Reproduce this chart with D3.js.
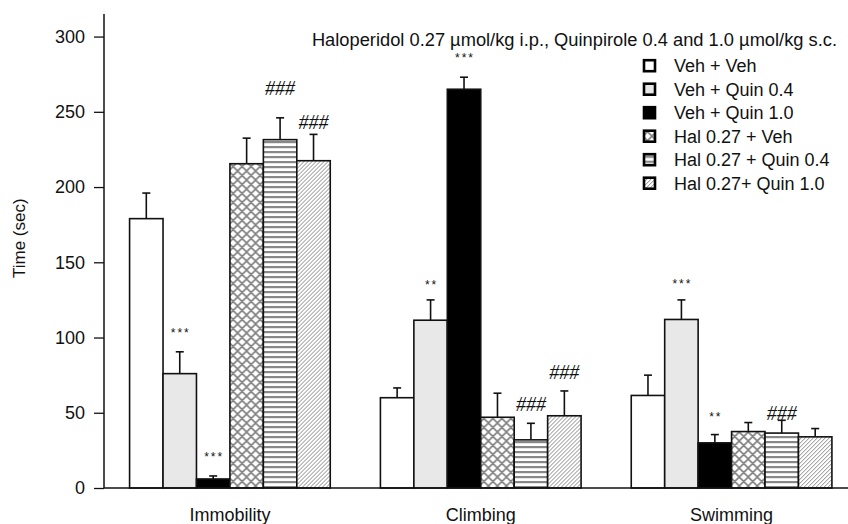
<!DOCTYPE html>
<html lang="en">
<head>
    <meta charset="UTF-8">
    <script src="https://cdn.jsdelivr.net/npm/d3@7"></script>
    <title>Forced swim test</title>
    <style>
        body {
            margin: 0;
            background: white;
        }

        text {
            font-family: 'Liberation Sans', Arial, sans-serif;
            fill: #111;
        }

        .stars {
            font-size: 12px;
            letter-spacing: 2px;
        }

        .hash {
            font-family: 'Liberation Serif', 'Times New Roman', serif;
            font-style: italic;
            font-size: 20px;
        }
    </style>
</head>

<body>
<div class="fig"></div>

<script>
    // Data (means and upward SEM)
    const behaviours = ["Immobility", "Climbing", "Swimming"];
    const groups = ["Veh + Veh", "Veh + Quin 0.4", "Veh + Quin 1.0",
                    "Hal 0.27 + Veh", "Hal 0.27 + Quin 0.4", "Hal 0.27+ Quin 1.0"];

    const means = [
        [179, 76, 6, 215.5, 231.5, 217.5],
        [60, 111.5, 265, 47, 32, 48],
        [61.5, 112, 30, 37.5, 36.5, 34]
    ];
    const sems = [
        [17, 14.5, 2, 17, 14.5, 17.5],
        [6.5, 13.5, 8, 16, 11, 16.5],
        [13.5, 13, 5.5, 6, 8.5, 5.5]
    ];

    // significance marks: behaviour index, group index, text, height (sec)
    const marks = [
        [0, 1, "***", 105], [0, 2, "***", 23], [0, 4, "###", 266], [0, 5, "###", 243],
        [1, 1, "**", 137], [1, 2, "***", 288], [1, 4, "###", 56], [1, 5, "###", 77],
        [2, 1, "***", 138], [2, 2, "**", 49], [2, 4, "###", 50]
    ];

    const yTicks = [0, 50, 100, 150, 200, 250, 300];
    const title = "Haloperidol 0.27 \u00b5mol/kg i.p., Quinpirole 0.4 and 1.0 \u00b5mol/kg s.c.";

    const width = 848, height = 524;
    const fills = ["#ffffff", "#e8e8e8", "#000000", "url(#cross)", "url(#hstripe)", "url(#diag)"];

    const svg = d3.select(".fig").append("svg")
        .attr("width", width)
        .attr("height", height);

    /*----------------- patterns -----------------*/
    const defs = svg.append("defs");

    const cross = defs.append("pattern")
        .attr("id", "cross")
        .attr("patternUnits", "userSpaceOnUse")
        .attr("width", 9).attr("height", 9);
    cross.append("rect").attr("width", 9).attr("height", 9).attr("fill", "white");
    cross.append("path")
        .attr("d", "M0,0 L9,9 M9,0 L0,9 M-1,8 L1,10 M8,-1 L10,1 M-1,1 L1,-1 M8,10 L10,8")
        .attr("stroke", "#808080").attr("stroke-width", 1.6);

    const hs = defs.append("pattern")
        .attr("id", "hstripe")
        .attr("patternUnits", "userSpaceOnUse")
        .attr("width", 6).attr("height", 5);
    hs.append("rect").attr("width", 6).attr("height", 5).attr("fill", "white");
    hs.append("rect").attr("y", 1).attr("width", 6).attr("height", 2.2).attr("fill", "#888");

    const dg = defs.append("pattern")
        .attr("id", "diag")
        .attr("patternUnits", "userSpaceOnUse")
        .attr("width", 4).attr("height", 4);
    dg.append("rect").attr("width", 4).attr("height", 4).attr("fill", "white");
    dg.append("path")
        .attr("d", "M0,4 L4,0 M-1,1 L1,-1 M3,5 L5,3")
        .attr("stroke", "#888").attr("stroke-width", 1);

    /*----------------- scales -----------------*/
    const x0 = d3.scaleBand()
        .domain(behaviours)
        .range([104.5, 857])
        .paddingInner(0.2)
        .paddingOuter(0.1);

    const x1 = d3.scaleBand()
        .domain(d3.range(groups.length))
        .range([0, x0.bandwidth()]);

    const y = d3.scaleLinear()
        .domain([0, 315])
        .range([488, 14]);

    /*----------------- axes -----------------*/
    const yAxis = svg.append("g")
        .attr("transform", "translate(104,0)")
        .call(d3.axisLeft(y).tickValues(yTicks).tickSize(10).tickPadding(9));
    yAxis.select(".domain").remove();
    yAxis.selectAll(".tick line").attr("stroke", "#111").attr("stroke-width", 1.3);
    yAxis.selectAll(".tick text").style("font-size", "18px").attr("fill", "#111");

    svg.append("line")
        .attr("x1", 104).attr("x2", 104)
        .attr("y1", y(315)).attr("y2", y(0))
        .attr("stroke", "#111").attr("stroke-width", 1.5);

    svg.append("text")
        .attr("transform", "translate(25," + (y(166)) + ") rotate(-90)")
        .attr("text-anchor", "middle")
        .style("font-size", "17px")
        .text("Time (sec)");

    svg.selectAll(".xlab")
        .data(behaviours)
        .enter()
        .append("text")
        .attr("class", "xlab")
        .attr("x", d => x0(d) + x0.bandwidth() / 2)
        .attr("y", 521)
        .attr("text-anchor", "middle")
        .style("font-size", "18px")
        .text(d => d);

    /*----------------- bars -----------------*/
    const barG = svg.selectAll(".grp")
        .data(behaviours)
        .enter()
        .append("g")
        .attr("class", "grp")
        .attr("transform", d => "translate(" + x0(d) + ",0)");

    barG.each(function (b, bi) {
        const g = d3.select(this);
        const rows = means[bi].map((m, gi) => ({ gi, m, s: sems[bi][gi] }));

        // error bars first, so the bar outline sits on top
        rows.forEach(r => {
            const cx = x1(r.gi) + x1.bandwidth() / 2;
            g.append("line")
                .attr("x1", cx).attr("x2", cx)
                .attr("y1", y(r.m)).attr("y2", y(r.m + r.s))
                .attr("stroke", "#111").attr("stroke-width", 1.6);
            g.append("line")
                .attr("x1", cx - 4).attr("x2", cx + 4)
                .attr("y1", y(r.m + r.s)).attr("y2", y(r.m + r.s))
                .attr("stroke", "#111").attr("stroke-width", 1.6);
        });

        g.selectAll("rect")
            .data(rows)
            .enter()
            .append("rect")
            .attr("x", d => x1(d.gi))
            .attr("y", d => y(d.m))
            .attr("width", x1.bandwidth())
            .attr("height", d => y(0) - y(d.m))
            .attr("fill", d => fills[d.gi])
            .attr("stroke", "#111")
            .attr("stroke-width", 1.6);
    });

    svg.append("line")
        .attr("x1", 104).attr("x2", width)
        .attr("y1", y(0)).attr("y2", y(0))
        .attr("stroke", "#111").attr("stroke-width", 1.6);

    /*----------------- significance marks -----------------*/
    svg.selectAll(".mark")
        .data(marks)
        .enter()
        .append("text")
        .attr("class", d => d[2].startsWith("#") ? "hash" : "stars")
        .attr("x", d => x0(behaviours[d[0]]) + x1(d[1]) + x1.bandwidth() / 2 + (d[2].startsWith("*") ? 1 : 0))
        .attr("y", d => y(d[3]))
        .attr("dy", d => d[2].startsWith("#") ? "0.35em" : "0.6em")
        .attr("text-anchor", "middle")
        .text(d => d[2]);

    /*----------------- legend -----------------*/
    svg.append("text")
        .attr("x", 837)
        .attr("y", 46)
        .attr("text-anchor", "end")
        .style("font-size", "18.3px")
        .text(title);

    const legend = svg.selectAll(".leg")
        .data(groups)
        .enter()
        .append("g")
        .attr("class", "leg")
        .attr("transform", (d, i) => "translate(643," + (65.7 + i * 23.5) + ")");

    legend.append("rect")
        .attr("x", 1).attr("y", -5.5)
        .attr("width", 11).attr("height", 11)
        .attr("fill", (d, i) => fills[i])
        .attr("stroke", "#000")
        .attr("stroke-width", 2.6);

    legend.append("text")
        .attr("x", 31)
        .attr("dy", "0.35em")
        .style("font-size", "18px")
        .text(d => d);
</script>
</body>
</html>
